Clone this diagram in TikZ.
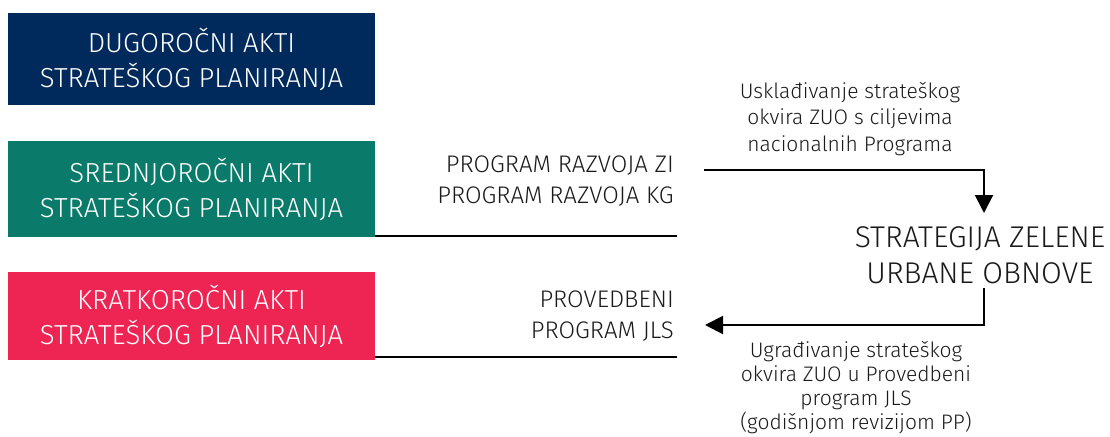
\documentclass[tikz,border=0pt]{standalone}
\usepackage{fontspec}
\setmainfont{Fira Sans Light}
\usetikzlibrary{arrows.meta}
\definecolor{navy}{HTML}{002A5C}
\definecolor{teal}{HTML}{0A7A6A}
\definecolor{crimson}{HTML}{EE2452}
\definecolor{ink}{HTML}{1A1A1A}
\tikzset{
  actbox/.style={draw=none, inner sep=0pt, minimum width=367pt, text=white, align=center,
    font=\fontsize{27.5}{35}\selectfont},
  midlabel/.style={inner sep=0pt, text=ink, align=right, anchor=east,
    font=\fontsize{24}{31}\selectfont},
  note/.style={inner sep=0pt, text=ink, align=center, font=\fontsize{21}{26.5}\selectfont},
  rule/.style={draw=black, line width=2pt},
  flow/.style={draw=black, line width=2pt, -{Triangle[width=18pt,length=18pt]}},
}
\begin{document}
\begin{tikzpicture}[x=1pt,y=-1pt]
\useasboundingbox (0,0) rectangle (1110,436);
% boxes
\node[actbox, fill=navy, minimum height=92pt] (dug) at (191.5,59) {DUGOROČNI AKTI\\STRATEŠKOG PLANIRANJA};
\node[actbox, fill=teal, minimum height=96pt] (sred) at (191.5,189) {SREDNJOROČNI AKTI\\STRATEŠKOG PLANIRANJA};
\node[actbox, fill=crimson, minimum height=88pt] (krat) at (191.5,316) {KRATKOROČNI AKTI\\STRATEŠKOG PLANIRANJA};
% middle labels
\node[midlabel] (prz) at (674,181) {PROGRAM RAZVOJA ZI\\PROGRAM RAZVOJA KG};
\node[midlabel] (pjls) at (674,316) {PROVEDBENI\\PROGRAM JLS};
% rules
\coordinate (r1) at (677,236);
\coordinate (r2) at (677,357);
\draw[rule] (sred.east |- r1) -- (r1);
\draw[rule] (krat.east |- r2) -- (r2);
% strategy
\node[inner sep=0pt, text=ink, align=center, font=\fontsize{30}{36.5}\selectfont] (zuo) at (980,255) {STRATEGIJA ZELENE\\URBANE OBNOVE};
% notes
\node[note] (n1) at (850,119) {Usklađivanje strateškog\\okvira ZUO s ciljevima\\nacionalnih Programa};
\node[note, font=\fontsize{21}{24}\selectfont] (n2) at (856,388) {Ugrađivanje strateškog\\okvira ZUO u Provedbeni\\program JLS\\(godišnjom revizijom PP)};
% arrows
\coordinate (a1) at (704,170);
\coordinate (zin) at (984,213);
\coordinate (zout) at (984,288);
\coordinate (b2) at (705,325);
\draw[flow] (a1) -| (zin);
\draw[flow] (zout) |- (b2);
\end{tikzpicture}
\end{document}
